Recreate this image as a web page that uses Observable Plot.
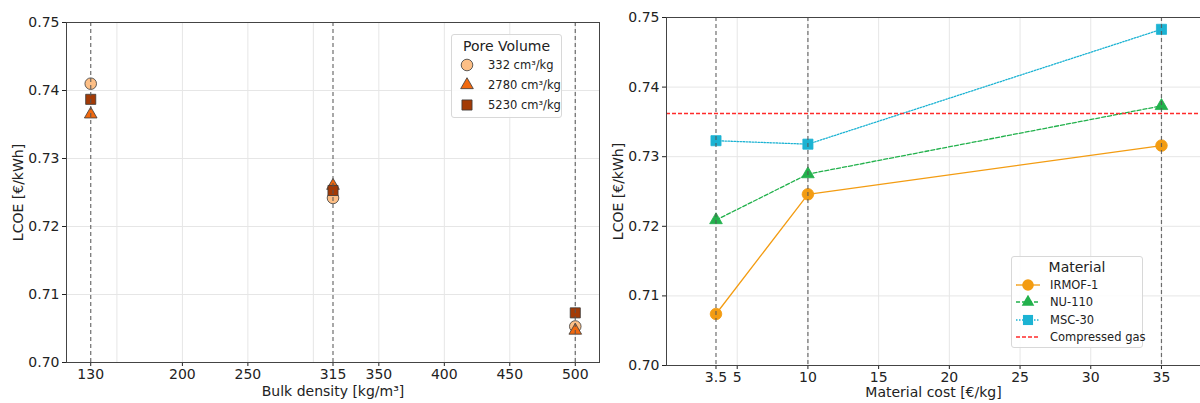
<!DOCTYPE html>
<html>
<head>
<meta charset="utf-8">
<script src="https://cdn.jsdelivr.net/npm/d3@7"></script>
<script src="https://cdn.jsdelivr.net/npm/@observablehq/plot@0.6"></script>
<style>
  body { margin: 0; background: white; font-family: "DejaVu Sans", sans-serif; }
  #wrap { position: relative; width: 1200px; height: 403px; display: flex; }
  .panel { position: relative; width: 600px; height: 403px; }
  .panel svg text { font-size: 14px; fill: #222; }
  .legend { position: absolute; background: rgba(255,255,255,0.85); border: 1px solid #d8d8d8; border-radius: 3px; box-sizing: border-box; color: #222; white-space: nowrap; }
  .legend .title { font-size: 14px; text-align: center; margin-bottom: 1px; }
  .legend .row { display: flex; align-items: center; font-size: 11.5px; height: 17.5px; white-space: nowrap; }
  .legend svg { display: block; flex: none; }
</style>
</head>
<body>
<div id="wrap">
  <div class="panel" id="left"></div>
  <div class="panel" id="right"></div>
</div>
<script>
// ---- Left panel data ----
const density = [130, 315, 500];
const densityTicks = [130, 200, 250, 315, 350, 400, 450, 500];
const densityGrid = [150, 200, 250, 300, 350, 400, 450, 500];
const poreVolumes = ["332 cm³/kg", "2780 cm³/kg", "5230 cm³/kg"];
const pv332 = [0.7410, 0.7242, 0.7053];
const pv2780 = [0.7365, 0.7260, 0.7047];
const pv5230 = [0.7387, 0.7253, 0.7073];
const poreColors = ["#fdbf86", "#f1690f", "#a33a05"];
const poreSymbols = ["circle", "triangle", "square"];

// ---- Right panel data ----
const cost = [3.5, 10, 35];
const costTicks = [3.5, 5, 10, 15, 20, 25, 30, 35];
const costGrid = [5, 10, 15, 20, 25, 30, 35];
const materials = ["IRMOF-1", "NU-110", "MSC-30"];
const irmof1 = [0.7074, 0.7246, 0.7316];
const nu110 = [0.7209, 0.7275, 0.7373];
const msc30 = [0.7323, 0.7318, 0.7483];
const compressedGas = [0.7362];
const materialColors = ["#f39c12", "#22b14c", "#1cb3d3"];
const materialDash = [null, "4,2", "1.5,1.5"];
const gasColor = "#ff2b2b";

const lcoeTicks = [0.70, 0.71, 0.72, 0.73, 0.74, 0.75];

const baseStyle = { fontFamily: "DejaVu Sans, sans-serif", fontSize: "14px", color: "#222", background: "white", overflow: "visible" };
const symR = { circle: 5.8, triangle: 4.7, square: 5.7 };

// ---- Left plot ----
const poreSeries = [pv332, pv2780, pv5230];
const leftMarks = [
  Plot.ruleX(densityGrid, { stroke: "#e6e6e6", strokeWidth: 1 }),
  Plot.ruleY(lcoeTicks, { stroke: "#e6e6e6", strokeWidth: 1 }),
];
poreSeries.forEach((vals, i) => {
  leftMarks.push(Plot.dot(density.map((d, j) => ({ x: d, y: vals[j] })), {
    x: "x", y: "y", symbol: poreSymbols[i], fill: poreColors[i], stroke: "#3a3a3a", strokeWidth: 0.8, r: symR[poreSymbols[i]]
  }));
});
leftMarks.push(Plot.ruleX(density, { stroke: "#555", strokeOpacity: 0.85, strokeDasharray: "4,3", strokeWidth: 1.2 }));
leftMarks.push(Plot.frame({ stroke: "#444", strokeWidth: 1 }));

const leftPlot = Plot.plot({
  width: 600, height: 403,
  marginLeft: 66, marginRight: 1, marginTop: 22, marginBottom: 41,
  style: baseStyle,
  x: { domain: [111.5, 518.5], ticks: densityTicks, tickFormat: d => String(d), tickSize: 4, tickPadding: 3,
       label: "Bulk density [kg/m³]", labelAnchor: "center", labelOffset: 33, labelArrow: false },
  y: { domain: [0.70, 0.75], ticks: lcoeTicks, tickFormat: d3.format(".2f"), tickSize: 4, tickPadding: 3,
       label: "LCOE [€/kWh]", labelAnchor: "center", labelOffset: 53, labelArrow: false },
  marks: leftMarks
});
document.getElementById("left").appendChild(leftPlot);

// ---- Right plot ----
const matSeries = [irmof1, nu110, msc30];
const matSymbols = ["circle", "triangle", "square"];
const rightMarks = [
  Plot.ruleX(costGrid, { stroke: "#e6e6e6", strokeWidth: 1 }),
  Plot.ruleY(lcoeTicks, { stroke: "#e6e6e6", strokeWidth: 1 }),
];
matSeries.forEach((vals, i) => {
  const rows = cost.map((c, j) => ({ x: c, y: vals[j] }));
  rightMarks.push(Plot.line(rows, { x: "x", y: "y", stroke: materialColors[i], strokeWidth: 1.3, strokeDasharray: materialDash[i] }));
  rightMarks.push(Plot.dot(rows, { x: "x", y: "y", symbol: matSymbols[i], fill: materialColors[i], stroke: materialColors[i], strokeWidth: 0.8, r: symR[matSymbols[i]] }));
});
rightMarks.push(Plot.ruleY(compressedGas, { stroke: gasColor, strokeDasharray: "4,2", strokeWidth: 1.4 }));
rightMarks.push(Plot.ruleX(cost, { stroke: "#555", strokeOpacity: 0.85, strokeDasharray: "4,3", strokeWidth: 1.2 }));
rightMarks.push(Plot.frame({ stroke: "#444", strokeWidth: 1 }));

const rightPlot = Plot.plot({
  width: 600, height: 403,
  marginLeft: 66, marginRight: 0, marginTop: 17, marginBottom: 38,
  style: baseStyle,
  x: { domain: [0, 37.76], ticks: costTicks, tickFormat: d => String(d), tickSize: 4, tickPadding: 3,
       label: "Material cost [€/kg]", labelAnchor: "center", labelOffset: 31, labelArrow: false },
  y: { domain: [0.70, 0.75], ticks: lcoeTicks, tickFormat: d3.format(".2f"), tickSize: 4, tickPadding: 3,
       label: "LCOE [€/kWh]", labelAnchor: "center", labelOffset: 53, labelArrow: false },
  marks: rightMarks
});
document.getElementById("right").appendChild(rightPlot);

// ---- Legends (HTML) ----
function symbolPath(type, r) {
  const t = { circle: d3.symbolCircle, triangle: d3.symbolTriangle, square: d3.symbolSquare }[type];
  return d3.symbol(t, Math.PI * r * r)();
}

const leftLegend = document.createElement("div");
leftLegend.className = "legend";
Object.assign(leftLegend.style, { left: "451px", top: "34px", width: "111px", height: "84px", padding: "3px 5px" });
leftLegend.innerHTML = `<div class="title">Pore Volume</div>` + poreVolumes.map((lab, i) =>
  `<div class="row" style="height:20px"><svg width="22" height="16"><path transform="translate(10,8)" d="${symbolPath(poreSymbols[i], symR[poreSymbols[i]])}" fill="${poreColors[i]}" stroke="#3a3a3a" stroke-width="0.8"/></svg><span style="margin-left:9px">${lab}</span></div>`
).join("");
document.getElementById("left").appendChild(leftLegend);

const rightLegend = document.createElement("div");
rightLegend.className = "legend";
Object.assign(rightLegend.style, { left: "411px", top: "256px", width: "132px", height: "92px", padding: "2px 3px" });
let rows = materials.map((lab, i) =>
  `<div class="row"><svg width="26" height="14"><line x1="1" x2="25" y1="7" y2="7" stroke="${materialColors[i]}" stroke-width="1.3" ${materialDash[i] ? `stroke-dasharray="${materialDash[i]}"` : ""}/><path transform="translate(13,7)" d="${symbolPath(matSymbols[i], symR[matSymbols[i]])}" fill="${materialColors[i]}"/></svg><span style="margin-left:9px">${lab}</span></div>`
).join("");
rows += `<div class="row"><svg width="26" height="14"><line x1="1" x2="25" y1="7" y2="7" stroke="${gasColor}" stroke-width="1.3" stroke-dasharray="4,2"/></svg><span style="margin-left:9px">Compressed gas</span></div>`;
rightLegend.innerHTML = `<div class="title">Material</div>` + rows;
document.getElementById("right").appendChild(rightLegend);
</script>
</body>
</html>
